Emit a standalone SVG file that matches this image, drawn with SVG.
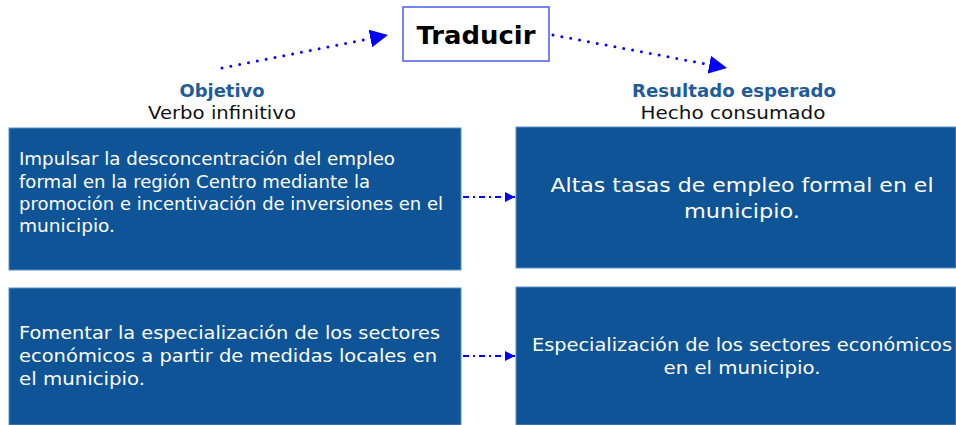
<svg xmlns="http://www.w3.org/2000/svg" width="956" height="425" viewBox="0 0 956 425">
<defs>
<marker id="ah" viewBox="0 0 10 10" refX="10" refY="5" markerWidth="6" markerHeight="6" markerUnits="strokeWidth" orient="auto">
<path d="M0,0 L10,5 L0,10 z" fill="#0000ff"/>
</marker>
<marker id="ah2" viewBox="0 0 10 10" refX="10" refY="5" markerWidth="5" markerHeight="5" markerUnits="strokeWidth" orient="auto">
<path d="M0,0 L10,5 L0,10 z" fill="#0000ff"/>
</marker>
</defs>
<style>
.box{fill:#0f5496;stroke:#5b8fc7;stroke-width:1}
.wt{font-family:"DejaVu Sans","Open Sans",sans-serif;font-size:17px;fill:#ffffff}
.wt2{font-family:"DejaVu Sans","Open Sans",sans-serif;font-size:19px;fill:#ffffff}
.hd{font-family:"DejaVu Sans","Open Sans",sans-serif;font-size:17px;font-weight:bold;fill:#1f5c99}
.sub{font-family:"DejaVu Sans","Open Sans",sans-serif;font-size:17px;fill:#111111}
.dot{fill:none;stroke:#0000ff;stroke-width:3;stroke-dasharray:0 9;stroke-linecap:round}
.dd{fill:none;stroke:#0000ff;stroke-width:2;stroke-dasharray:6 4 2 4}
</style>
<rect width="956" height="425" fill="#ffffff"/>
<g id="traducir">
<rect x="403" y="7" width="146" height="54" fill="#ffffff" stroke="#4a5cf0" stroke-width="1.5"/>
<text x="476" y="44" text-anchor="middle" font-family="DejaVu Sans, Open Sans, sans-serif" font-size="25" font-weight="bold" fill="#000000" textLength="119" lengthAdjust="spacingAndGlyphs">Traducir</text>
</g>
<g id="header-objetivo">
<text x="222" y="97" text-anchor="middle" class="hd" textLength="85" lengthAdjust="spacingAndGlyphs">Objetivo</text>
<text x="222" y="119" text-anchor="middle" class="sub" textLength="148" lengthAdjust="spacingAndGlyphs">Verbo infinitivo</text>
</g>
<g id="header-resultado">
<text x="734" y="97" text-anchor="middle" class="hd" textLength="204" lengthAdjust="spacingAndGlyphs">Resultado esperado</text>
<text x="733" y="119" text-anchor="middle" class="sub" textLength="185" lengthAdjust="spacingAndGlyphs">Hecho consumado</text>
</g>
<g id="obj1">
<rect x="9" y="128" width="452" height="142" class="box"/>
<text class="wt"><tspan x="19" y="165" textLength="376" lengthAdjust="spacingAndGlyphs">Impulsar la desconcentración del empleo</tspan><tspan x="19" y="188" textLength="351" lengthAdjust="spacingAndGlyphs">formal en la región Centro mediante la</tspan><tspan x="19" y="210" textLength="424" lengthAdjust="spacingAndGlyphs">promoción e incentivación de inversiones en el</tspan><tspan x="19" y="232" textLength="96" lengthAdjust="spacingAndGlyphs">municipio.</tspan></text>
</g>
<g id="res1">
<rect x="516" y="127" width="440" height="141" class="box" stroke="none"/>
<text class="wt2" text-anchor="middle"><tspan x="742" y="192" textLength="383" lengthAdjust="spacingAndGlyphs">Altas tasas de empleo formal en el</tspan><tspan x="742" y="218" textLength="116" lengthAdjust="spacingAndGlyphs">municipio.</tspan></text>
</g>
<g id="obj2">
<rect x="9" y="288" width="452" height="137" class="box"/>
<text class="wt"><tspan x="19" y="339" textLength="421" lengthAdjust="spacingAndGlyphs">Fomentar la especialización de los sectores</tspan><tspan x="19" y="362" textLength="418" lengthAdjust="spacingAndGlyphs">económicos a partir de medidas locales en</tspan><tspan x="19" y="385" textLength="126" lengthAdjust="spacingAndGlyphs">el municipio.</tspan></text>
</g>
<g id="res2">
<rect x="516" y="287" width="440" height="138" class="box" stroke="none"/>
<text class="wt" text-anchor="middle"><tspan x="742" y="351" textLength="420" lengthAdjust="spacingAndGlyphs">Especialización de los sectores económicos</tspan><tspan x="742" y="374" textLength="157" lengthAdjust="spacingAndGlyphs">en el municipio.</tspan></text>
</g>
<g id="connectors">
<path d="M222,68 L388,35" class="dot" marker-end="url(#ah)"/>
<path d="M553,35 L727,68" class="dot" marker-end="url(#ah)"/>
<path d="M463,197 L515,197" class="dd" marker-end="url(#ah2)"/>
<path d="M463,356 L515,356" class="dd" marker-end="url(#ah2)"/>
</g>
</svg>
